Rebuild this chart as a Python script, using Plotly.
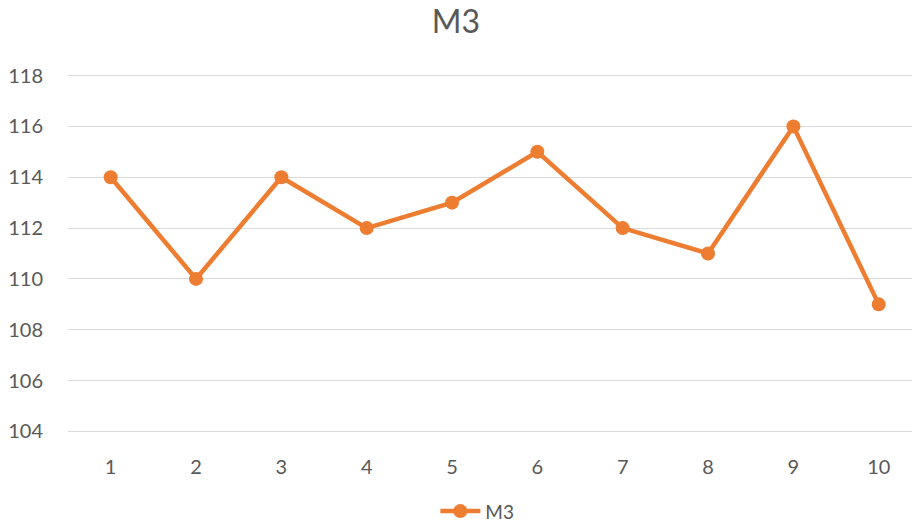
import plotly.graph_objects as go

categories = [1, 2, 3, 4, 5, 6, 7, 8, 9, 10]
m3_values = [114, 110, 114, 112, 113, 115, 112, 111, 116, 109]
y_ticks = [104, 106, 108, 110, 112, 114, 116, 118]

ORANGE = "#ED7D31"
TEXT = "#595959"
GRID = "#D9D9D9"
FONT = "Lato"

fig = go.Figure()
fig.add_trace(go.Scatter(
    x=categories, y=m3_values, mode="lines+markers", name="M3",
    line=dict(color=ORANGE, width=4.5),
    marker=dict(color=ORANGE, size=14),
))

fig.update_layout(
    width=912, height=525,
    margin=dict(l=68, r=0, t=74, b=92, autoexpand=False),
    paper_bgcolor="white", plot_bgcolor="white",
    title=dict(text="M3", x=0.5, xanchor="center", y=1 - 22 / 525, yanchor="middle",
               font=dict(family=FONT, size=32, color=TEXT)),
    font=dict(family=FONT, size=20, color=TEXT),
    showlegend=True,
    legend=dict(orientation="h", x=0.485, xanchor="center", y=-0.218, yanchor="middle",
                font=dict(family=FONT, size=19, color=TEXT), itemwidth=40),
    xaxis=dict(range=[0.5, 10.39], tickmode="array", tickvals=categories,
               ticktext=[str(c) for c in categories], automargin=False,
               showgrid=False, zeroline=False, showline=False, ticks="",
               ticklabelstandoff=20, fixedrange=True),
    yaxis=dict(range=[103.94, 118.06], tickmode="array", tickvals=y_ticks,
               ticktext=[str(v) for v in y_ticks], automargin=False,
               showgrid=True, gridcolor=GRID, gridwidth=1.3, zeroline=False,
               showline=False, ticks="", ticklabelstandoff=24),
)

fig.write_html("out.html", config={"displayModeBar": False},
               post_script="document.body.style.margin='0';")
